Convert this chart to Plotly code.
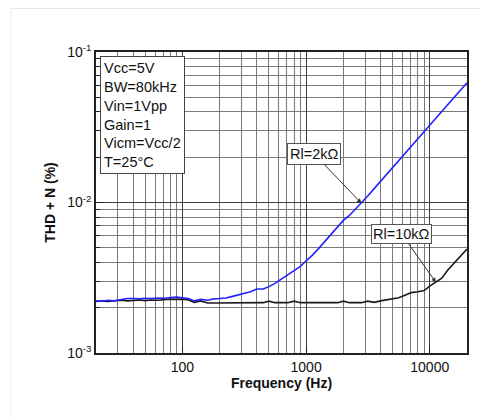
import math
import plotly.graph_objects as go

# ---- data ----
freq_hz = [20, 22, 25, 28, 32, 36, 40, 45, 50, 56, 63, 71, 80, 90, 100, 112, 125, 140, 160, 180,
           200, 224, 250, 280, 315, 355, 400, 450, 500, 560, 630, 710, 800, 900, 1000, 1120, 1250,
           1400, 1600, 1800, 2000, 2240, 2500, 2800, 3150, 3550, 4000, 4500, 5000, 5600, 6300,
           7100, 8000, 9000, 10000, 11200, 12500, 14000, 16000, 18000, 20000]

thdn_rl2k = [0.00222, 0.00221, 0.00224, 0.00222, 0.00227, 0.00230, 0.00230, 0.00229, 0.00231,
             0.00230, 0.00232, 0.00231, 0.00234, 0.00235, 0.00233, 0.00230, 0.00222, 0.00227,
             0.00224, 0.00229, 0.00230, 0.00232, 0.00237, 0.00242, 0.00247, 0.00255, 0.00266,
             0.00266, 0.00276, 0.00290, 0.00310, 0.00332, 0.00352, 0.00376, 0.00410, 0.00445,
             0.00490, 0.00545, 0.00620, 0.00690, 0.00760, 0.00820, 0.00900, 0.00990, 0.01104,
             0.01236, 0.01380, 0.01540, 0.01700, 0.01890, 0.02110, 0.02360, 0.02640, 0.02950,
             0.03270, 0.03630, 0.04030, 0.04480, 0.05070, 0.05660, 0.06250]

thdn_rl10k = [0.00220, 0.00222, 0.00220, 0.00223, 0.00224, 0.00222, 0.00224, 0.00225, 0.00223,
              0.00225, 0.00224, 0.00227, 0.00228, 0.00227, 0.00228, 0.00225, 0.00217, 0.00222,
              0.00215, 0.00215, 0.00215, 0.00216, 0.00216, 0.00216, 0.00216, 0.00216, 0.00216,
              0.00216, 0.00221, 0.00216, 0.00216, 0.00216, 0.00221, 0.00216, 0.00216, 0.00216,
              0.00216, 0.00216, 0.00216, 0.00216, 0.00221, 0.00216, 0.00216, 0.00216, 0.00221,
              0.00217, 0.00222, 0.00225, 0.00228, 0.00233, 0.00242, 0.00252, 0.00255, 0.00260,
              0.00278, 0.00295, 0.00314, 0.00356, 0.00402, 0.00447, 0.00490]

x_tick_vals = [100, 1000, 10000]
x_tick_text = ["100", "1000", "10000"]
y_tick_vals = [0.001, 0.01, 0.1]
y_tick_text = ["10<sup>-3</sup>", "10<sup>-2</sup>", "10<sup>-1</sup>"]

conditions = ["Vcc=5V", "BW=80kHz", "Vin=1Vpp", "Gain=1", "Vicm=Vcc/2", "T=25°C"]
label_2k = "Rl=2kΩ"
label_10k = "Rl=10kΩ"

FONT = "Liberation Sans, Arial, sans-serif"

# minor grid positions (2..9 in every decade)
x_minor = [m * 10 ** d for d in range(1, 5) for m in range(2, 10) if 20 <= m * 10 ** d <= 20000]
y_minor = [m * 10.0 ** d for d in (-3, -2) for m in range(2, 10)]

fig = go.Figure()
fig.add_trace(go.Scatter(x=freq_hz, y=thdn_rl10k, mode="lines",
                         line=dict(color="#1a1a1a", width=1.6), name=label_10k))
fig.add_trace(go.Scatter(x=freq_hz, y=thdn_rl2k, mode="lines",
                         line=dict(color="#2323ff", width=1.6), name=label_2k))

axis_common = dict(
    showline=True, linecolor="#222", linewidth=1.5, mirror=True,
    gridcolor="#404040", gridwidth=1, zeroline=False,
    tickfont=dict(family=FONT, size=14, color="#111"),
)

fig.update_xaxes(
    type="log", range=[math.log10(20), math.log10(20000)],
    tickmode="array", tickvals=x_tick_vals, ticktext=x_tick_text,
    ticks="inside", ticklen=7, tickcolor="#222",
    minor=dict(tickmode="array", tickvals=x_minor, showgrid=True, gridcolor="#7a7a7a",
               gridwidth=1, ticks=""),
    title=dict(text="<b>Frequency (Hz)</b>", font=dict(family=FONT, size=14, color="#111"),
               standoff=4),
    **axis_common,
)
fig.update_yaxes(
    type="log", range=[-3, -1],
    tickmode="array", tickvals=y_tick_vals, ticktext=y_tick_text,
    ticks="inside", ticklen=7, tickcolor="#222",
    minor=dict(tickmode="array", tickvals=y_minor, showgrid=True, gridcolor="#7a7a7a",
               gridwidth=1, ticks="inside", ticklen=4, tickcolor="#222"),
    title=dict(text="<b>THD + N (%)</b>", font=dict(family=FONT, size=14, color="#111"),
               standoff=8),
    **axis_common,
)

idx_2k = freq_hz.index(2800)
idx_10k = freq_hz.index(11200)

fig.update_layout(
    width=480, height=409,
    margin=dict(l=88, r=21, t=44, b=64),
    paper_bgcolor="white", plot_bgcolor="white",
    showlegend=False,
    annotations=[
        dict(xref="paper", yref="paper", x=0.011, y=0.988, xanchor="left", yanchor="top",
             text="<br>".join(conditions), align="left", showarrow=False,
             font=dict(family=FONT, size=14.5, color="#111"),
             bgcolor="white", bordercolor="#444", borderwidth=1, borderpad=3),
        dict(x=math.log10(freq_hz[idx_2k]), y=math.log10(thdn_rl2k[idx_2k]),
             xref="x", yref="y", text=label_2k, showarrow=True,
             ax=-47, ay=-49, arrowhead=2, arrowsize=0.9, arrowwidth=1, arrowcolor="#333",
             font=dict(family=FONT, size=14.5, color="#111"),
             bgcolor="white", bordercolor="#555", borderwidth=1, borderpad=2),
        dict(x=math.log10(freq_hz[idx_10k]), y=math.log10(thdn_rl10k[idx_10k]),
             xref="x", yref="y", text=label_10k, showarrow=True,
             ax=-34, ay=-48, arrowhead=2, arrowsize=0.9, arrowwidth=1, arrowcolor="#333",
             font=dict(family=FONT, size=14.5, color="#111"),
             bgcolor="white", bordercolor="#555", borderwidth=1, borderpad=1),
    ],
    shapes=[
        dict(type="line", xref="paper", yref="paper", x0=-0.232, x1=1.06, y0=1.145, y1=1.145,
             line=dict(color="#e4e4e4", width=1)),
        dict(type="line", xref="paper", yref="paper", x0=-0.229, x1=-0.229, y0=1.145, y1=-0.22,
             line=dict(color="#eeeeee", width=1)),
    ],
)

fig.write_html("out.html")
